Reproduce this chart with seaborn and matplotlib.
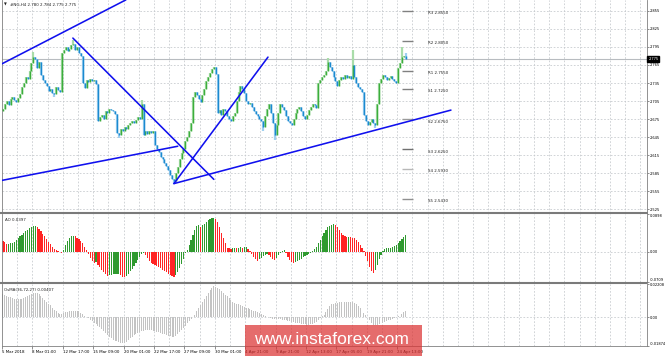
import numpy as np
import pandas as pd
import matplotlib
matplotlib.use("Agg")
import matplotlib.pyplot as plt
import seaborn as sns
from matplotlib.patches import Rectangle
from matplotlib.lines import Line2D

# ---------------- data ----------------
header = "#NG,H4 2.780 2.784 2.775 2.775"
first_open = 2.688
close_milli = [
    2692, 2700, 2705, 2698, 2708, 2712, 2706, 2703, 2710, 2716,
    2728, 2735, 2745, 2742, 2755, 2768, 2778, 2775, 2760, 2770,
    2748, 2740, 2735, 2730, 2722, 2725, 2718, 2716, 2728, 2724,
    2720, 2785, 2790, 2795, 2788, 2792, 2798, 2800, 2790, 2794,
    2785, 2780, 2735, 2726, 2740, 2736, 2742, 2738, 2740, 2733,
    2672, 2678, 2682, 2676, 2688, 2685, 2692, 2690, 2688, 2684,
    2652, 2648, 2658, 2655, 2662, 2658, 2665, 2668, 2672, 2668,
    2674, 2678, 2676, 2700, 2648, 2655, 2650, 2656, 2652, 2655,
    2632, 2625, 2620, 2612, 2608, 2602, 2598, 2590, 2582, 2575,
    2572, 2585, 2595, 2608, 2618, 2625, 2638, 2645, 2655, 2668,
    2712, 2720, 2715, 2708, 2704, 2715, 2725, 2738, 2745, 2752,
    2758, 2762, 2750, 2685, 2690, 2682, 2692, 2688, 2680, 2676,
    2672, 2680, 2686, 2705, 2720, 2730, 2725, 2718, 2705, 2700,
    2702, 2695, 2688, 2684, 2680, 2676, 2672, 2662, 2680, 2692,
    2700, 2685, 2668, 2648, 2665, 2685, 2700, 2695, 2690, 2680,
    2672, 2668, 2665, 2675, 2685, 2692, 2695, 2688, 2680, 2676,
    2682, 2690, 2695, 2700, 2698, 2694, 2735, 2740, 2745, 2748,
    2755, 2770, 2762, 2755, 2745, 2738, 2730, 2740, 2745, 2742,
    2748, 2744, 2746, 2742, 2765, 2745, 2735, 2728, 2725, 2720,
    2682, 2672, 2665, 2670, 2676, 2668, 2665, 2700, 2735, 2742,
    2748, 2745, 2740, 2744, 2746, 2742, 2738, 2735, 2760, 2768,
    2778, 2780, 2775,
]
wick_high_bars = [16, 37, 73, 171, 184, 210, 212]
wick_high_vals = [2.786, 2.806, 2.706, 2.776, 2.790, 2.795, 2.784]
wick_low_bars = [27, 61, 90, 137, 143, 196]
wick_low_vals = [2.712, 2.644, 2.568, 2.656, 2.640, 2.660]

ao_milli = [
    25, 22, 18, 19, 20, 21, 24, 28, 32, 36,
    40, 44, 48, 52, 55, 58, 60, 61, 58, 54,
    48, 42, 36, 30, 24, 18, 12, 7, 4, 2,
    0, -3, 5, 15, 25, 33, 37, 38, 36, 33,
    30, 25, 20, 12, 5, -5, -15, -22, -26, -25,
    -30, -36, -42, -48, -53, -56, -55, -54, -53, -53,
    -52, -51, -54, -58, -60, -57, -52, -46, -40, -33,
    -26, -19, -12, -6, -2, -8, -15, -22, -26, -28,
    -30, -33, -36, -39, -42, -45, -48, -51, -54, -57,
    -58, -55, -48, -38, -28, -16, -4, 5, 15, 28,
    40, 52, 60, 63, 58, 62, 66, 70, 74, 77,
    79, 80, 78, 70, 58, 45, 32, 20, 10, 8,
    7, 9, 10, 9, 10, 11, 10, 11, 12, 6,
    1, -6, -12, -17, -21, -18, -14, -10, -7, -5,
    -8, -12, -16, -19, -14, -8, -3, 2, 5, -4,
    -12, -19, -24, -27, -25, -22, -19, -16, -13, -10,
    -8, -5, -2, 1, 6, 12, 20, 28, 36, 44,
    51, 57, 61, 63, 64, 62, 57, 50, 44, 39,
    36, 34, 35, 34, 33, 32, 28, 22, 15, 8,
    2, -10, -22, -35, -45, -50, -42, -30, -18, -8,
    2, 6, 8, 9, 10, 12, 14, 17, 20, 25,
    30, 35, 39.7,
]
osma_e4 = [
    149, 145, 140, 135, 130, 125, 120, 118, 118, 120,
    122, 126, 132, 140, 148, 154, 158, 160, 157, 150,
    140, 128, 114, 100, 90, 78, 64, 50, 38, 28,
    22, 24, 28, 32, 35, 38, 40, 42, 43, 42,
    38, 30, 20, 10, 2, -6, -15, -25, -35, -45,
    -55, -64, -76, -90, -104, -117, -128, -138, -146, -152,
    -158, -163, -167, -170, -168, -160, -150, -138, -126, -116,
    -108, -100, -95, -91, -88, -86, -85, -85, -86, -88,
    -90, -93, -97, -101, -106, -111, -116, -120, -124, -127,
    -128, -122, -110, -96, -82, -68, -54, -40, -26, -13,
    0, 18, 38, 58, 78, 98, 118, 138, 158, 178,
    192, 202, 200, 193, 183, 172, 160, 148, 136, 124,
    112, 100, 95, 90, 85, 80, 75, 70, 64, 58,
    52, 47, 43, 38, 32, 26, 20, 14, 9, 4,
    0, -4, -8, -10, -11, -12, -14, -16, -18, -20,
    -22, -25, -28, -32, -35, -38, -40, -42, -44, -46,
    -47, -47, -46, -44, -38, -28, -16, -4, 6, 14,
    34, 55, 75, 85, 90, 94, 96, 98, 100, 102,
    103, 103, 102, 100, 97, 93, 88, 75, 60, 45,
    30, 15, 0, -20, -38, -50, -53, -50, -45, -40,
    -35, -30, -25, -20, -15, -10, -5, 0, 8, 16,
    24, 32, 40.7,
]

price_ticks = [2.855, 2.825, 2.795, 2.765, 2.735, 2.705, 2.675, 2.645, 2.615, 2.585, 2.555, 2.525]
last_price = 2.775
ao_ticks = [0.0898, 0.0, -0.0709]
ao_tick_labels = ["0.0898", "0.00", "-0.0709"]
osma_ticks = [0.02208, 0.0, -0.01874]
osma_tick_labels = ["0.02208", "0.00", "-0.01874"]

date_labels = ["5 Mar 2018", "8 Mar 01:00", "12 Mar 17:00", "15 Mar 09:00", "20 Mar 01:00",
               "22 Mar 17:00", "27 Mar 09:00", "30 Mar 01:00", "4 Apr 21:00", "9 Apr 21:00",
               "12 Apr 13:00", "17 Apr 05:00", "19 Apr 21:00", "24 Apr 13:00"]
bars_per_label = 16

pivot_names = ["R3", "R2", "R1", "S1", "S2", "S3", "S4", "S5"]
pivot_levels = [2.8550, 2.8050, 2.7550, 2.7250, 2.6750, 2.6250, 2.5930, 2.5430]

# trend lines: (bar_start, price_start, bar_end, price_end)
trend_bar0 = [-1.05, 36.8, 90.0, 90.0, -1.05]
trend_p0 = [2.766, 2.8096, 2.568, 2.568, 2.573]
trend_bar1 = [64.7, 111.0, 139.5, 235.8, 92.0]
trend_p1 = [2.873, 2.575, 2.778, 2.690, 2.630]

# ---------------- build ----------------
close = np.array(close_milli) / 1000.0
ao = np.array(ao_milli, dtype=float) / 1000.0
osma = np.array(osma_e4, dtype=float) / 10000.0
idx = np.arange(len(close))
opens = np.r_[first_open, close[:-1]]
body_hi = np.maximum(opens, close)
body_lo = np.minimum(opens, close)
wick_hi = body_hi.copy()
wick_lo = body_lo.copy()
for b, v in zip(wick_high_bars, wick_high_vals):
    wick_hi[b] = max(wick_hi[b], v)
for b, v in zip(wick_low_bars, wick_low_vals):
    wick_lo[b] = min(wick_lo[b], v)
up = close >= opens

sns.set_theme(style="white")
plt.rcParams["font.family"] = ["DejaVu Sans"]
FS = 2.9
FSR = 2.6
W, H = 665, 356

fig = plt.figure(figsize=(W / 100, H / 100), dpi=100)
fig.patch.set_facecolor("white")


def rect(x0, y0, x1, y1):
    return [x0 / W, 1 - y1 / H, (x1 - x0) / W, (y1 - y0) / H]


ax = fig.add_axes(rect(2, 0, 647, 212.5))
ax_ao = fig.add_axes(rect(2, 213.5, 647, 282), sharex=ax)
ax_os = fig.add_axes(rect(2, 283.5, 647, 346), sharex=ax)

XMIN, XMAX = -0.5, 339.0
grid_kw = dict(color="#c4c8cc", lw=0.55, ls=(0, (2.2, 2.2)), zorder=0)
grid_bars = np.arange(8, 340, 8) - 0.5
for a in (ax, ax_ao, ax_os):
    a.set_facecolor("white")
    for g in grid_bars:
        a.axvline(g, **grid_kw)
for p in price_ticks:
    ax.axhline(p, **grid_kw)
ax_ao.axhline(0, **grid_kw)
ax_os.axhline(0, **grid_kw)

# current price line
ax.axhline(last_price, color="#b8bcc0", lw=0.8, zorder=1)

# candles
gl, gd = "#a9dca9", "#3cae3c"
bl, bd = "#9fd0f0", "#1b8ad0"
ax.vlines(idx[up], wick_lo[up], wick_hi[up], colors=gl, lw=1.6, zorder=2)
ax.vlines(idx[~up], wick_lo[~up], wick_hi[~up], colors=bl, lw=1.6, zorder=2)
ax.vlines(idx[up], body_lo[up], body_hi[up], colors=gd, lw=1.05, zorder=3)
ax.vlines(idx[~up], body_lo[~up], body_hi[~up], colors=bd, lw=1.05, zorder=3)

# trend lines
for b0, p0, b1, p1 in zip(trend_bar0, trend_p0, trend_bar1, trend_p1):
    sns.lineplot(x=[b0, b1], y=[p0, p1], color="#1010ee", lw=1.15, ax=ax, zorder=4)

# pivot levels
piv_colors = ["#808080", "#808080", "#808080", "#808080", "#9a9a9a", "#707070", "#b8b8b8", "#909090"]
ax.hlines(pivot_levels, 210, 215.8, colors=piv_colors, lw=1.0, zorder=3)
for n, lv in zip(pivot_names, pivot_levels):
    ax.text(223.7, lv - 0.0006, f"{n} {lv:.4f}", fontsize=FS, va="top", ha="left", color="#202020")

ax.set_ylim(2.520, 2.8728)
ax.set_xlim(XMIN, XMAX)

# AO histogram
ao_prev = np.r_[ao[0] + 1, ao[:-1]]
ao_df = pd.DataFrame({"bar": np.arange(len(ao)), "ao": ao,
                      "dir": np.where(ao >= ao_prev, "up", "down")})
sns.barplot(data=ao_df, x="bar", y="ao", hue="dir",
            palette={"up": "#2f9a2f", "down": "#ff2424"},
            native_scale=True, dodge=False, width=0.62, errorbar=None,
            legend=False, saturation=1, linewidth=0, ax=ax_ao)
ax_ao.set_ylim(-0.0709, 0.0898)

# OsMA histogram
os_df = pd.DataFrame({"bar": np.arange(len(osma)), "osma": osma})
sns.barplot(data=os_df, x="bar", y="osma", color="#c3c3c3", native_scale=True,
            width=0.5, errorbar=None, saturation=1, linewidth=0, ax=ax_os)
ax_os.set_ylim(-0.01874, 0.02208)

for a in (ax, ax_ao, ax_os):
    a.set_xlim(XMIN, XMAX)
    a.set_xlabel("")
    a.set_ylabel("")
    a.yaxis.tick_right()
    a.tick_params(axis="y", which="both", right=True, left=False, labelright=True,
                  labelleft=False, labelsize=FSR, length=1.5, width=0.5, pad=0.8,
                  colors="#606060", labelcolor="black")
    for s in a.spines.values():
        s.set_color("#808080")
        s.set_linewidth(0.6)
    a.spines["top"].set_visible(False)

ax.set_yticks(price_ticks)
ax.set_yticklabels([f"{p:.3f}" for p in price_ticks])
ax_ao.set_yticks(ao_ticks)
ax_ao.set_yticklabels(ao_tick_labels)
ax_os.set_yticks(osma_ticks)
ax_os.set_yticklabels(osma_tick_labels)
for a in (ax_ao, ax_os):
    labs = a.get_yticklabels()
    labs[0].set_va("top")
    labs[-1].set_va("bottom")

label_pos = np.arange(len(date_labels)) * bars_per_label - 0.5
ax_os.set_xticks(label_pos)
ax_os.set_xticklabels(date_labels, ha="left")
ax_os.tick_params(axis="x", bottom=True, labelsize=FS, length=2, width=0.5, pad=1.2,
                  colors="#606060", labelcolor="black")
for a in (ax, ax_ao):
    a.tick_params(axis="x", bottom=False, labelbottom=False)

# price tag
ax.text(1.002, last_price, f"{last_price:.3f}", transform=ax.get_yaxis_transform(),
        fontsize=FSR, color="white", ha="left", va="center", clip_on=False, zorder=6,
        bbox=dict(boxstyle="square,pad=0.25", fc="black", ec="black"))

# panel separators
for yy in (213, 283):
    fig.add_artist(Line2D([0, 647 / W], [1 - yy / H] * 2, color="#7a7a7a", lw=1.5))

# header & indicator labels
fig.text(4 / W, 1 - 5 / H, "\u25bc", fontsize=2.6, va="center", ha="left", color="#202020")
fig.text(10 / W, 1 - 5 / H, header, fontsize=FS, va="center", ha="left", color="#202020")
ax_ao.text(0.004, 0.93, "AO 0.0397", transform=ax_ao.transAxes, fontsize=FS, va="top", ha="left")
ax_os.text(0.003, 0.93, "OsMA(36,72,27) 0.00407", transform=ax_os.transAxes, fontsize=FS,
           va="top", ha="left")

# watermark
fig.add_artist(Rectangle((245 / W, 0), 177 / W, 31 / H, transform=fig.transFigure,
                         facecolor=(0.86, 0.2, 0.2), alpha=0.72, edgecolor="none", zorder=10))
fig.text(331 / W, 1 - 340 / H, "www.instaforex.com", color="white", fontsize=12.5,
         ha="center", va="center", family=["Liberation Sans", "DejaVu Sans"], zorder=11)

fig.savefig("out.png", dpi=100, facecolor="white")
